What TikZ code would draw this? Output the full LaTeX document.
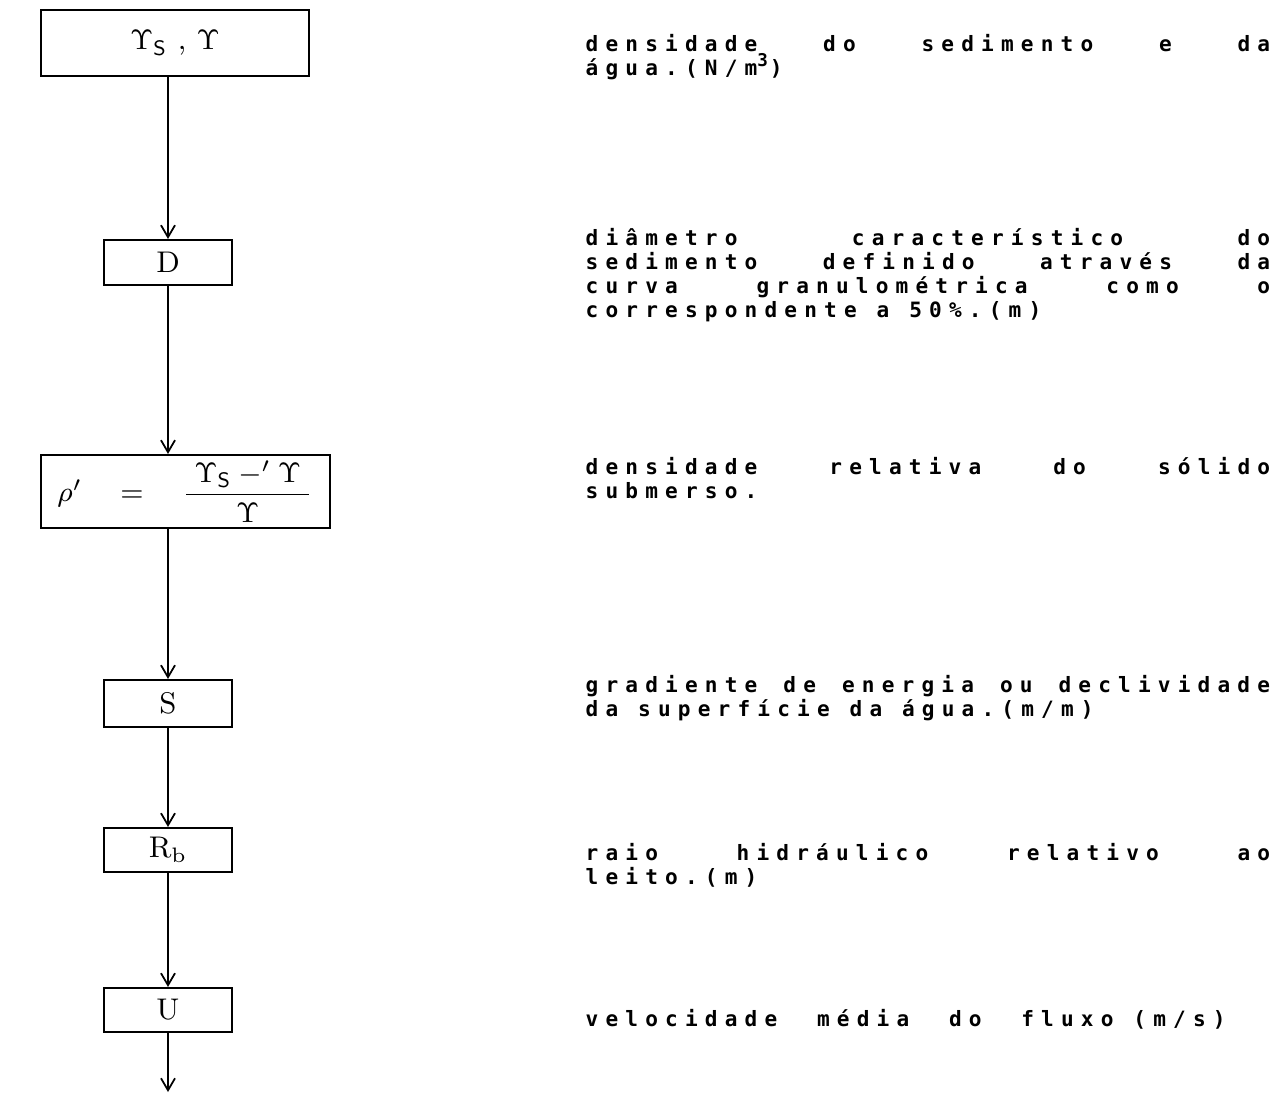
\documentclass[tikz,border=0pt]{standalone}
\usepackage{amsmath,amssymb}
\usepackage{fontspec}
\usepackage{tikz}
\usetikzlibrary{arrows.meta,positioning,calc}

\newfontfamily\dotfont[LetterSpace=34,WordSpace={1,3,0.3}]{DejaVu Sans Mono}
\hyphenpenalty=10000
\tolerance=10000

\begin{document}
\begin{tikzpicture}[
  x=0.01cm, y=-0.01cm,
  >={Straight Barb[length=1.2mm,width=1.4mm]},
  box/.style={draw, line width=0.6pt, inner sep=0pt,
              font=\fontsize{8.5}{10}\selectfont},
  smallbox/.style={box, minimum width=1.28cm, minimum height=0.45cm},
  arr/.style={->, line width=0.5pt},
  desc/.style={anchor=north west, inner sep=0pt, text width=6.84cm,
               align=justify, font=\dotfont\bfseries\fontsize{6}{6.8}\selectfont},
]
\useasboundingbox (0,0) rectangle (1279,1096);

% chain of quantities (left)
\node[box, minimum width=2.68cm, minimum height=0.66cm] (gam) at (175,43)
  {$\Upsilon_{\mathsf{S}}$ , $\Upsilon$};
\node[smallbox] (D) at (168,262.5) {D};
\node[box, minimum width=2.89cm, minimum height=0.73cm] (rho) at (185.5,491.5)
  {$\rho' \quad = \quad \dfrac{\;\Upsilon_{\mathsf{S}} \mathbin{-'} \Upsilon\;}{\Upsilon}$};
\node[smallbox, minimum height=0.47cm] (S) at (168,703.5) {S};
\node[smallbox, minimum height=0.44cm] (Rb) at (168,850) {R$_\mathrm{b}$};
\node[smallbox, minimum height=0.44cm] (U) at (168,1010) {U};
\coordinate (out) at (168,1092);

\draw[arr] (gam.south -| D) -- (D.north);
\draw[arr] (D.south) -- (D.south |- rho.north);
\draw[arr] (rho.south -| S) -- (S.north);
\draw[arr] (S) -- (Rb);
\draw[arr] (Rb) -- (U);
\draw[arr] (U) -- (out);

% descriptions (right)
\node[desc] (t1) at (585,34) {densidade do sedimento e da\linebreak
  água.(N/m\textsuperscript{3})};
\node[desc] (t2) at (585,228) {diâmetro característico do\linebreak
  sedimento definido através da\linebreak
  curva granulométrica como o\linebreak
  correspondente a 50\%.(m)};
\node[desc] (t3) at (585,457) {densidade relativa do sólido\linebreak
  submerso.};
\node[desc] (t4) at (585,675) {gradiente de energia ou declividade\linebreak
  da superfície da água.(m/m)};
\node[desc] (t5) at (585,843) {raio hidráulico relativo ao\linebreak
  leito.(m)};
\node[desc] (t6) at (585,1009) {velocidade\ \ média\ \ do\ \ fluxo (m/s)};
\end{tikzpicture}
\end{document}
